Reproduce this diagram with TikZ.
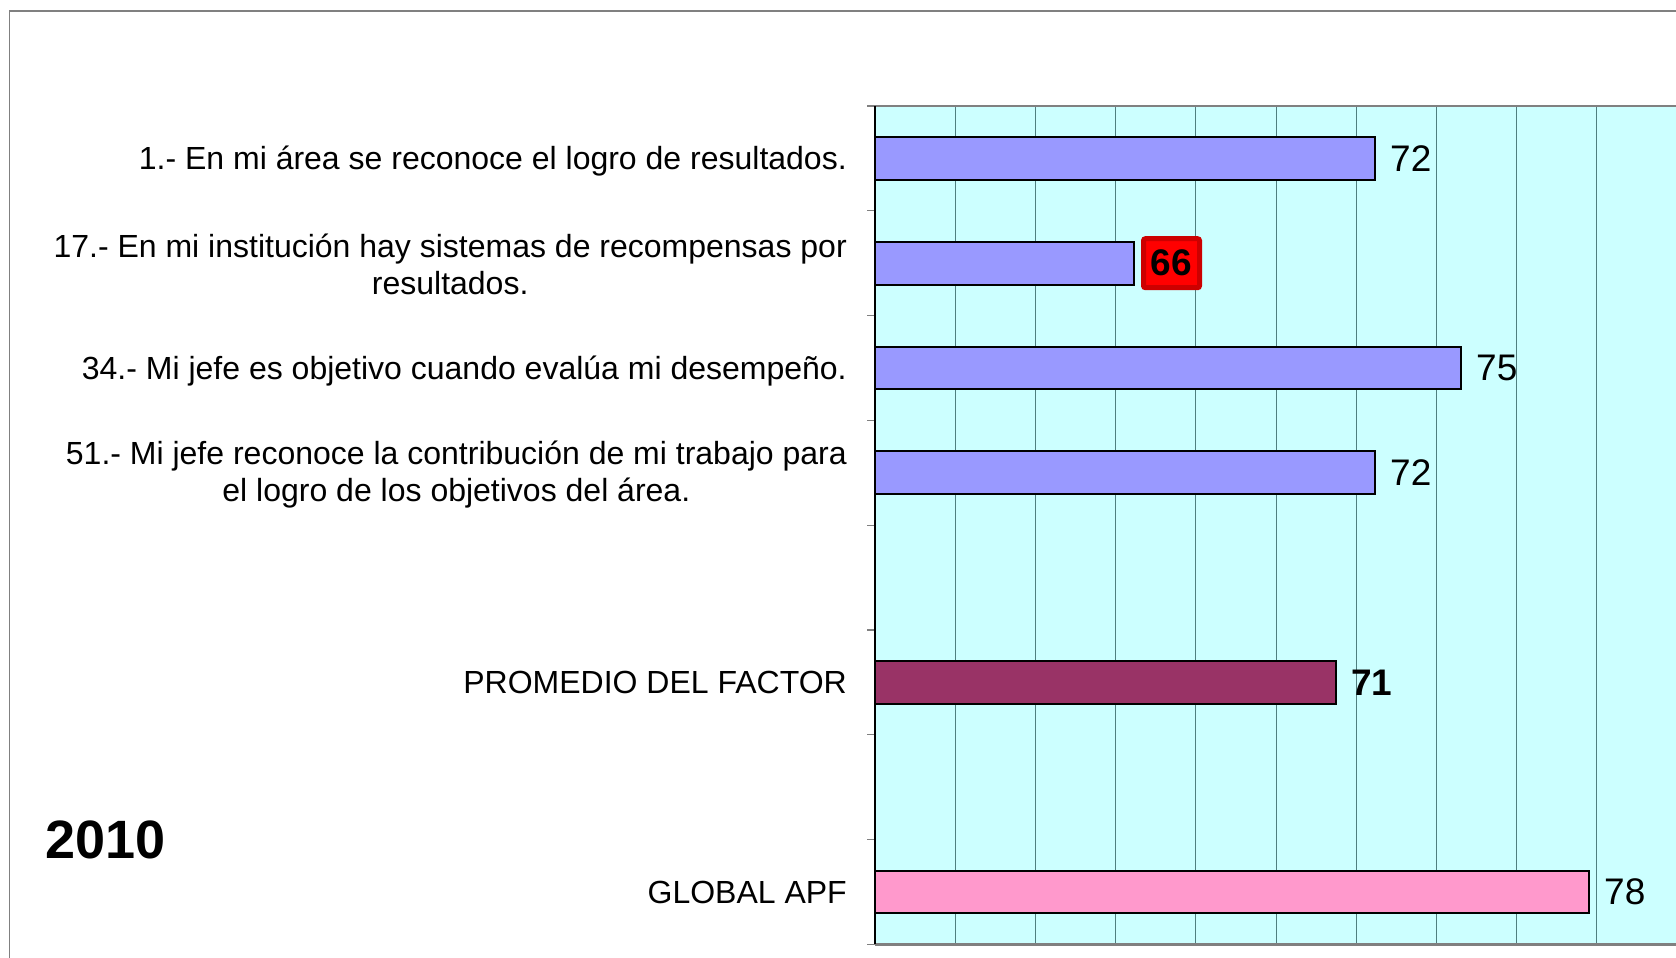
\documentclass[tikz,border=0pt]{standalone}
\usepackage{fontspec}
\setmainfont{Liberation Sans}
\definecolor{bgc}{HTML}{CCFFFF}
\definecolor{barblue}{HTML}{9999FF}
\definecolor{barplum}{HTML}{993366}
\definecolor{barpink}{HTML}{FF99CC}
\definecolor{gridc}{HTML}{4F7F7F}
\definecolor{boxred}{HTML}{FF0000}
\definecolor{boxedge}{HTML}{CC0000}
\definecolor{framec}{HTML}{808080}
\begin{document}
\begin{tikzpicture}[x=1pt,y=-1pt,
  hbar/.style={draw=black, line width=2pt, anchor=west, minimum height=42.7pt, inner sep=0pt, outer sep=0pt},
  lbl/.style={anchor=east, align=center, font=\fontsize{32}{37.5}\selectfont, inner sep=0pt},
  lbl1/.style={anchor=base east, font=\fontsize{32}{37.5}\selectfont, inner sep=0pt},
  val/.style={anchor=west, font=\fontsize{37}{40}\selectfont, inner sep=0pt},
  bval/.style={anchor=west, font=\fontsize{37}{40}\selectfont\bfseries, inner sep=0pt},
  redbox/.style={anchor=west, fill=boxred, draw=boxedge, line width=5pt, rounded corners=2pt, minimum width=56pt, minimum height=49pt, inner sep=0pt, outer sep=0pt, font=\fontsize{37}{40}\selectfont\bfseries}]
\useasboundingbox (0,0) rectangle (1676,958);
\clip (0,0) rectangle (1676,958);
\fill[white] (0,0) rectangle (1676,958);
% chart frame
\draw[framec, line width=1.3pt] (9.5,1000) -- (9.5,11) -- (1700,11);
% plot area
\fill[bgc] (875,106) rectangle (1700,944.3);
\foreach \k in {1,...,10} \draw[gridc, line width=1pt] (875+80.2*\k,106) -- (875+80.2*\k,944.3);
\draw[framec, line width=2.5pt] (875,106) -- (1700,106);
\draw[framec, line width=2.5pt] (875,944.3) -- (1700,944.3);
\foreach \k in {0,...,8} \draw[framec, line width=1.2pt] (867,106+104.79*\k) -- (875,106+104.79*\k);
\draw[black, line width=1.5pt] (875,106) -- (875,944.3);
% bars
\node[hbar, fill=barblue, minimum width=500pt] (b1) at (875,158.4) {};
\node[hbar, fill=barblue, minimum width=259pt] (b2) at (875,263.2) {};
\node[hbar, fill=barblue, minimum width=586pt] (b3) at (875,368.0) {};
\node[hbar, fill=barblue, minimum width=500pt] (b4) at (875,472.8) {};
\node[hbar, fill=barplum, minimum width=461pt] (b5) at (875,682.4) {};
\node[hbar, fill=barpink, minimum width=714pt] (b6) at (875,892.0) {};
% values
\node[val] (v1) at ([xshift=15pt]b1.east) {72};
\node[redbox] (v2) at ([xshift=9.5pt]b2.east) {66};
\node[val] (v3) at ([xshift=15pt]b3.east) {75};
\node[val] (v4) at ([xshift=15pt]b4.east) {72};
\node[bval] (v5) at ([xshift=15pt]b5.east) {71};
\node[val] (v6) at ([xshift=15pt]b6.east) {78};
% category labels
\node[lbl1] (l1) at (847,169.9) {1.- En mi área se reconoce el logro de resultados.};
\node[lbl] (l2) at (847,264.5) {17.- En mi institución hay sistemas de recompensas por\\resultados.};
\node[lbl1] (l3) at (847,379.5) {34.- Mi jefe es objetivo cuando evalúa mi desempeño.};
\node[lbl] (l4) at (847,474.5) {51.- Mi jefe reconoce la contribución de mi trabajo para\\el logro de los objetivos del área.};
\node[lbl1] (l5) at (847,693.9) {PROMEDIO DEL FACTOR};
\node[lbl1] (l6) at (847,903.5) {GLOBAL APF};
% year
\node[anchor=base west, inner sep=0pt, font=\fontsize{54}{60}\selectfont\bfseries] (yr) at (45,858) {2010};
\end{tikzpicture}
\end{document}
